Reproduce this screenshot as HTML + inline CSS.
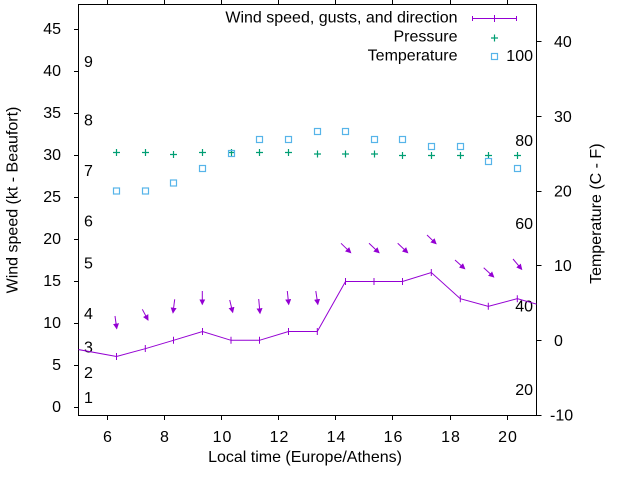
<!DOCTYPE html>
<html>
<head>
<meta charset="utf-8">
<style>
html,body{margin:0;padding:0;background:#fff;}
svg{display:block;}
text{font-family:"Liberation Sans",Arial,sans-serif;font-size:16px;fill:#000;}
</style>
</head>
<body>
<svg width="640" height="480" viewBox="0 0 640 480" xmlns="http://www.w3.org/2000/svg">
<defs>
  <marker id="ah" markerWidth="8" markerHeight="8" refX="5" refY="3" orient="auto" markerUnits="userSpaceOnUse">
    <path d="M0,0 L6,3 L0,6 z" fill="#9400d3"/>
  </marker>
  <clipPath id="pc"><rect x="78.5" y="4.5" width="458" height="411"/></clipPath>
</defs>
<rect width="640" height="480" fill="#fff"/>

<!-- axes border -->
<g stroke="#000" stroke-width="1" fill="none" shape-rendering="crispEdges">
  <rect x="78.5" y="4.5" width="458" height="411"/>
  <path d="M74,407.5H78.5 M74,365.5H78.5 M74,323.5H78.5 M74,281.5H78.5 M74,239.5H78.5 M74,197.5H78.5 M74,155.5H78.5 M74,113.5H78.5 M74,71.5H78.5 M74,29.5H78.5"/>
  <path d="M536.5,415.5H541.5 M536.5,340.5H541.5 M536.5,265.5H541.5 M536.5,191.5H541.5 M536.5,116.5H541.5 M536.5,41.5H541.5"/>
  <path d="M107.5,415.5V420 M164.5,415.5V420 M221.5,415.5V420 M278.5,415.5V420 M335.5,415.5V420 M392.5,415.5V420 M450.5,415.5V420 M507.5,415.5V420"/>
  <path d="M107.5,0V4.5 M164.5,0V4.5 M221.5,0V4.5 M278.5,0V4.5 M335.5,0V4.5 M392.5,0V4.5 M450.5,0V4.5 M507.5,0V4.5"/>
</g>

<!-- left tick labels -->
<g text-anchor="end">
  <text x="61" y="412">0</text>
  <text x="61" y="370">5</text>
  <text x="61" y="328">10</text>
  <text x="61" y="286">15</text>
  <text x="61" y="244">20</text>
  <text x="61" y="202">25</text>
  <text x="61" y="160">30</text>
  <text x="61" y="118">35</text>
  <text x="61" y="76">40</text>
  <text x="61" y="34">45</text>
</g>

<!-- right tick labels -->
<g>
  <text x="550" y="420.5">-10</text>
  <text x="554" y="346">0</text>
  <text x="554" y="271">10</text>
  <text x="554" y="196.5">20</text>
  <text x="554" y="122">30</text>
  <text x="554" y="47">40</text>
</g>

<!-- bottom tick labels -->
<g text-anchor="middle">
  <text x="107.5" y="442">6</text>
  <text x="164.5" y="442">8</text>
  <text x="222.5" y="442" letter-spacing="1">10</text>
  <text x="279.5" y="442" letter-spacing="1">12</text>
  <text x="336.5" y="442" letter-spacing="1">14</text>
  <text x="393.5" y="442" letter-spacing="1">16</text>
  <text x="451" y="442" letter-spacing="1">18</text>
  <text x="508" y="442" letter-spacing="1">20</text>
</g>

<!-- axis labels -->
<text x="305" y="462" text-anchor="middle">Local time (Europe/Athens)</text>
<text transform="translate(17.5,200) rotate(-90)" text-anchor="middle">Wind speed (kt - Beaufort)</text>
<text transform="translate(601,213.7) rotate(-90)" text-anchor="middle">Temperature (C - F)</text>

<!-- Beaufort labels -->
<g>
  <text x="84" y="403">1</text>
  <text x="84" y="378">2</text>
  <text x="84" y="352.5">3</text>
  <text x="84" y="319">4</text>
  <text x="84" y="268.5">5</text>
  <text x="84" y="226.5">6</text>
  <text x="84" y="176">7</text>
  <text x="84" y="125.5">8</text>
  <text x="84" y="67">9</text>
</g>

<!-- Fahrenheit labels -->
<g text-anchor="end">
  <text x="533" y="61">100</text>
  <text x="533" y="146">80</text>
  <text x="533" y="229">60</text>
  <text x="533" y="311.5">40</text>
  <text x="533" y="395">20</text>
</g>

<!-- pressure -->
<g stroke="#009e73" stroke-width="1.2" fill="none">
  <path d="M113,152.5h7M116.5,149v7
           M142,152.5h7M145.5,149v7
           M170,154.5h7M173.5,151v7
           M199,152.5h7M202.5,149v7
           M228,152.5h7M231.5,149v7
           M256,152.5h7M259.5,149v7
           M285,152.5h7M288.5,149v7
           M314,154h7M317.5,150.5v7
           M342,154h7M345.5,150.5v7
           M371,154h7M374.5,150.5v7
           M399,155.5h7M402.5,152v7
           M428,155.5h7M431.5,152v7
           M457,155.5h7M460.5,152v7
           M485,155.5h7M488.5,152v7
           M514,155.5h7M517.5,152v7"/>
</g>

<!-- temperature -->
<g stroke="#56b4e9" stroke-width="1.2" fill="none">
  <rect x="113.5" y="188" width="6" height="6"/>
  <rect x="142.5" y="188" width="6" height="6"/>
  <rect x="170.5" y="180" width="6" height="6"/>
  <rect x="199.5" y="165.5" width="6" height="6"/>
  <rect x="228.5" y="150.5" width="6" height="6"/>
  <rect x="256.5" y="136.5" width="6" height="6"/>
  <rect x="285.5" y="136.5" width="6" height="6"/>
  <rect x="314.5" y="128.5" width="6" height="6"/>
  <rect x="342.5" y="128.5" width="6" height="6"/>
  <rect x="371.5" y="136.5" width="6" height="6"/>
  <rect x="399.5" y="136.5" width="6" height="6"/>
  <rect x="428.5" y="143.5" width="6" height="6"/>
  <rect x="457.5" y="143.5" width="6" height="6"/>
  <rect x="485.5" y="158.5" width="6" height="6"/>
  <rect x="514.5" y="165.5" width="6" height="6"/>
</g>

<!-- wind line -->
<g clip-path="url(#pc)" stroke="#9400d3" stroke-width="1" fill="none">
  <polyline points="59,346 116.5,356.5 145.3,348.7 173.5,340.3 202.5,331.5 231,340.3 259.5,340.3 288.5,331.5 317.3,331.5 345.5,281.5 374,281.5 402.5,281.5 431.3,272.5 460.3,298.7 488.3,306.3 517.3,298.7 545,306.5"/>
  <path d="M116.5,353v7 M145.3,345v7 M173.5,336.8v7 M202.5,328v7 M231,336.8v7 M259.5,336.8v7 M288.5,328v7 M317.3,328v7 M345.5,278v7 M374,278v7 M402.5,278v7 M431.3,269v7 M460.3,295.2v7 M488.3,302.8v7 M517.3,295.2v7"/>
</g>

<!-- wind arrows -->
<g stroke="#9400d3" stroke-width="1" fill="none" marker-end="url(#ah)">
  <line x1="115" y1="316" x2="116.7" y2="328.5"/>
  <line x1="142.3" y1="309.3" x2="148" y2="320"/>
  <line x1="174.7" y1="299.3" x2="173" y2="312.7"/>
  <line x1="202.3" y1="291" x2="202.3" y2="304.3"/>
  <line x1="229.7" y1="300" x2="232.7" y2="312.3"/>
  <line x1="258.7" y1="299" x2="260" y2="313.3"/>
  <line x1="287.3" y1="291" x2="288.7" y2="304.3"/>
  <line x1="315.8" y1="291" x2="317.8" y2="304.3"/>
  <line x1="341" y1="243.3" x2="350.7" y2="252.7"/>
  <line x1="369" y1="243.3" x2="379" y2="252.7"/>
  <line x1="397.7" y1="243.3" x2="407.7" y2="252.7"/>
  <line x1="427" y1="235" x2="436" y2="243.7"/>
  <line x1="455" y1="260" x2="464.7" y2="268.7"/>
  <line x1="483.7" y1="267.7" x2="493.7" y2="277"/>
  <line x1="513" y1="259" x2="521.7" y2="269.3"/>
</g>

<!-- legend -->
<g text-anchor="end">
  <text x="457.5" y="22.5">Wind speed, gusts, and direction</text>
  <text x="457.5" y="41.5">Pressure</text>
  <text x="457.5" y="60.5">Temperature</text>
</g>
<g stroke="#9400d3" stroke-width="1" fill="none">
  <path d="M472.5,18.5H516.5 M472.5,16v5 M494.5,15v7 M516.5,16v5"/>
</g>
<path d="M491,38h7M494.5,34.5v7" stroke="#009e73" stroke-width="1.2" fill="none"/>
<rect x="491.5" y="53.5" width="6" height="6" stroke="#56b4e9" stroke-width="1.2" fill="none"/>
</svg>
</body>
</html>
